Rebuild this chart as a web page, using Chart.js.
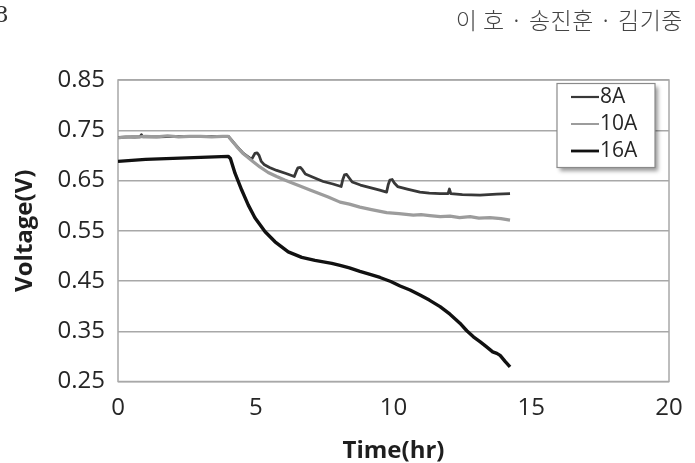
<!DOCTYPE html>
<html>
<head>
<meta charset="utf-8">
<script src="https://cdn.jsdelivr.net/npm/chart.js@4.4.1/dist/chart.umd.min.js"></script>
<style>
  body { margin: 0; background: #fff; }
  .wrap { position: relative; width: 695px; height: 463px; overflow: hidden; }
  .page-no { position: absolute; left: -6px; top: 1px; font: 23px "DejaVu Serif", serif; color: #333; }
  .authors { position: absolute; right: 12px; top: 2px; font: 300 23px "Noto Sans CJK KR", sans-serif; color: #444; letter-spacing: 0.5px; }
</style>
</head>
<body>
<div class="wrap">
  <canvas class="line-chart"></canvas>
  <div class="page-no">8</div>
  <div class="authors">이 호 · 송진훈 · 김기중</div>
</div>
<script>
const seriesLabels = ['8A', '10A', '16A'];
const lineColors = ['#383838', '#9c9c9c', '#111111'];
const lineWidths = [2.8, 3.2, 3.4];

const yTicks = [0.25, 0.35, 0.45, 0.55, 0.65, 0.75, 0.85];
const xTicks = [0, 5, 10, 15, 20];

const time8A = [0, 0.5, 0.8, 0.85, 0.9, 1.5, 2, 2.5, 3, 3.5,
  4.0, 4.3, 4.55, 4.85, 4.92, 4.97, 5.05, 5.12, 5.2, 5.3,
  5.5, 5.76, 6.1, 6.4, 6.47, 6.53, 6.62, 6.7, 6.8, 7.1,
  7.45, 7.8, 8.1, 8.16, 8.22, 8.3, 8.38, 8.5, 8.8, 9.15,
  9.5, 9.75, 9.81, 9.87, 9.95, 10.03, 10.15, 10.5, 10.96, 11.3,
  11.69, 11.98, 12.03, 12.08, 12.5, 13.14, 13.75, 14.23];
const volt8A = [0.736, 0.737, 0.737, 0.741, 0.737, 0.737, 0.738, 0.738, 0.738, 0.738,
  0.738, 0.719, 0.704, 0.692, 0.699, 0.704, 0.705, 0.700, 0.688, 0.682,
  0.676, 0.670, 0.664, 0.658, 0.668, 0.675, 0.676, 0.671, 0.663, 0.656,
  0.648, 0.643, 0.638, 0.652, 0.661, 0.662, 0.656, 0.647, 0.641, 0.636,
  0.631, 0.627, 0.642, 0.651, 0.652, 0.645, 0.638, 0.633, 0.627, 0.625,
  0.624, 0.624, 0.633, 0.624, 0.622, 0.621, 0.623, 0.624];

const time10A = [0, 0.3, 0.6, 1.0, 1.4, 1.8, 2.2, 2.6, 3.0, 3.4, 3.8, 4.0, 4.3, 4.55, 4.85,
  5.15, 5.45, 5.76, 6.05, 6.37, 6.65, 6.97, 7.3, 7.63, 8.06, 8.4, 8.78, 9.2, 9.75, 10.2,
  10.72, 11.0, 11.32, 11.7, 12.05, 12.4, 12.78, 13.1, 13.5, 13.9, 14.23];
const volt10A = [0.735, 0.737, 0.736, 0.738, 0.737, 0.739, 0.737, 0.738, 0.738, 0.737, 0.738, 0.738, 0.718, 0.703, 0.690,
  0.677, 0.666, 0.658, 0.651, 0.644, 0.638, 0.631, 0.624, 0.617, 0.607, 0.603, 0.597, 0.592, 0.586, 0.584,
  0.581, 0.582, 0.580, 0.578, 0.579, 0.576, 0.578, 0.575, 0.576, 0.574, 0.571];

const time16A = [0, 0.5, 1, 1.5, 2, 2.5, 3, 3.5, 4.0, 4.08, 4.25, 4.49, 4.73, 4.97, 5.34,
  5.70, 6.18, 6.67, 7.15, 7.76, 8.06, 8.4, 8.78, 9.15, 9.51, 9.9, 10.24, 10.6, 10.96, 11.3,
  11.69, 12.05, 12.41, 12.66, 12.9, 13.15, 13.38, 13.6, 13.75, 13.87, 14.05, 14.23];
const volt16A = [0.688, 0.690, 0.692, 0.693, 0.694, 0.695, 0.696, 0.697, 0.698, 0.694, 0.664, 0.631, 0.601, 0.576, 0.548,
  0.528, 0.508, 0.497, 0.491, 0.485, 0.481, 0.476, 0.469, 0.463, 0.457, 0.449, 0.440, 0.432, 0.422, 0.412,
  0.399, 0.384, 0.366, 0.351, 0.339, 0.329, 0.319, 0.309, 0.306, 0.302, 0.290, 0.279];

const seriesTimes = [time8A, time10A, time16A];
const seriesVolts = [volt8A, volt10A, volt16A];

const gridColor = '#a8a8a8';
const textColor = '#262626';

// box around the plot area (the right edge has no axis of its own)
const plotFrame = {
  id: 'plotFrame',
  beforeDatasetsDraw(chart) {
    const { ctx, chartArea } = chart;
    ctx.save();
    ctx.strokeStyle = gridColor;
    ctx.lineWidth = 1.5;
    ctx.strokeRect(chartArea.left, chartArea.top, chartArea.right - chartArea.left, chartArea.bottom - chartArea.top);
    ctx.restore();
  }
};

// legend drawn inside the plot, framed with a drop shadow
const boxLegend = {
  id: 'boxLegend',
  afterDatasetsDraw(chart) {
    const { ctx, chartArea } = chart;
    const left = chartArea.right - 112;
    const top = chartArea.top + 3.5;
    const w = 98, h = 84;
    ctx.save();
    ctx.shadowColor = 'rgba(0,0,0,0.4)';
    ctx.shadowBlur = 4;
    ctx.shadowOffsetX = 3;
    ctx.shadowOffsetY = 3;
    ctx.fillStyle = '#fff';
    ctx.fillRect(left, top, w, h);
    ctx.shadowColor = 'transparent';
    ctx.strokeStyle = '#8a8a8a';
    ctx.lineWidth = 1.2;
    ctx.strokeRect(left, top, w, h);
    ctx.font = '21px "Open Sans"';
    ctx.textBaseline = 'middle';
    ctx.fillStyle = textColor;
    chart.data.datasets.forEach((ds, i) => {
      const y = top + 13.5 + i * 27;
      ctx.strokeStyle = ds.borderColor;
      ctx.lineWidth = i === 1 ? 2 : ds.borderWidth - 0.6;
      ctx.beginPath();
      ctx.moveTo(left + 14, y);
      ctx.lineTo(left + 42, y);
      ctx.stroke();
      ctx.fillText(ds.label, left + 43, y);
    });
    ctx.restore();
  }
};

const renderChart = () => {
  const lineChart = document.querySelector('.line-chart');
  const datasets = seriesLabels.map((label, i) => ({
    label: label,
    data: seriesTimes[i].map((t, j) => ({ x: t, y: seriesVolts[i][j] })),
    borderColor: lineColors[i],
    borderWidth: lineWidths[i],
    borderJoinStyle: 'round',
    pointRadius: 0,
    tension: 0,
    fill: false,
    order: i === 1 ? 0 : 1,
  }));

  new Chart(lineChart, {
    type: 'line',
    data: { datasets: datasets },
    plugins: [plotFrame, boxLegend],
    options: {
      responsive: true,
      maintainAspectRatio: false,
      animation: false,
      layout: { padding: { top: 80, right: 26, left: 0, bottom: 0 } },
      plugins: {
        legend: { display: false },
        tooltip: { enabled: false }
      },
      scales: {
        x: {
          type: 'linear',
          min: 0,
          max: 20,
          afterBuildTicks: (scale) => { scale.ticks = xTicks.map(v => ({ value: v })); },
          afterFit: (scale) => { scale.height = 81.5; },
          grid: { display: false, drawTicks: false },
          border: { display: false },
          ticks: {
            padding: 12,
            color: textColor,
            font: { family: 'Open Sans', size: 24 },
            maxRotation: 0
          },
          title: {
            display: true,
            text: 'Time(hr)',
            color: '#1e1e1e',
            font: { family: 'Open Sans', size: 24, weight: 'bold', lineHeight: 1 },
            padding: { top: 0, bottom: 0 }
          }
        },
        y: {
          min: 0.25,
          max: 0.85,
          afterBuildTicks: (scale) => { scale.ticks = yTicks.map(v => ({ value: v })); },
          afterFit: (scale) => { scale.width = 118; },
          grid: { color: gridColor, lineWidth: 1.5, drawTicks: false },
          border: { display: false },
          ticks: {
            padding: 13,
            color: textColor,
            font: { family: 'Open Sans', size: 24 },
            callback: (v) => Number(v).toFixed(2)
          },
          title: {
            display: true,
            text: 'Voltage(V)',
            color: '#1e1e1e',
            font: { family: 'Open Sans', size: 24, weight: 'bold', lineHeight: 1 },
            padding: { top: 13, bottom: 0 }
          }
        }
      }
    }
  });
};

renderChart();
</script>
</body>
</html>
